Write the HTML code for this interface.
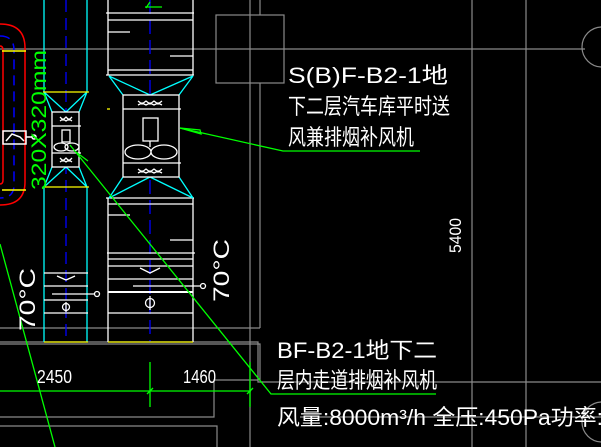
<!DOCTYPE html>
<html><head><meta charset="utf-8"><style>
html,body{margin:0;padding:0;background:#000;}
svg{display:block;}
text{font-family:"Liberation Sans","Noto Sans CJK SC",sans-serif;fill:#fff;}
</style></head><body>
<svg width="601" height="447" viewBox="0 0 601 447" xmlns="http://www.w3.org/2000/svg">
<rect width="601" height="447" fill="#000"/>
<!-- gray architecture -->
<g stroke="#8a8a8a" stroke-width="1.2" fill="none">
<line x1="0" y1="49" x2="585" y2="49"/>
<rect x="216" y="15" width="68" height="68"/>
<line x1="250" y1="0" x2="250" y2="447"/>
<line x1="260" y1="0" x2="260" y2="15"/>
<line x1="260" y1="83" x2="260" y2="328"/>
<line x1="472" y1="0" x2="472" y2="447"/>
<line x1="526" y1="0" x2="526" y2="447"/>
<line x1="0" y1="328" x2="260" y2="328"/>
<polyline points="0,342 258,342 258,382 601,382"/>
<polyline points="0,344 260,344 260,380"/>
<polyline points="0,417 214,417 214,380 258,380"/>
<polyline points="0,426 217,426 217,447"/>
<line x1="300" y1="417" x2="601" y2="417"/>
<circle cx="602" cy="47" r="20"/>
<circle cx="602" cy="422" r="20"/>
</g>
<!-- red/blue pipe -->
<g fill="none" stroke-width="1.5">
<path d="M0,24 Q25,24 25,48 L25,182 Q25,205 0,205" stroke="#ff0000"/>
<path d="M0,46 Q3,46 3,50 L3,180 Q3,184 0,184" stroke="#ff0000"/>
<path d="M0,36 Q14,36 14,50 L14,185 Q14,198 0,198" stroke="#0000ff" stroke-dasharray="10,6"/>
<line x1="2" y1="51" x2="26" y2="51" stroke="#ffff00"/>
<line x1="2" y1="190" x2="26" y2="190" stroke="#ffff00"/>
<rect x="3" y="131" width="23" height="13" stroke="#fff"/>
<line x1="26" y1="137" x2="32" y2="137" stroke="#fff"/>
<circle cx="34" cy="137" r="2" stroke="#fff"/>
<path d="M6,141 L12,134 L20,137 L24,141" stroke="#fff"/>
</g>
<!-- left duct -->
<g fill="none" stroke-width="1.3">
<line x1="44" y1="0" x2="44" y2="92" stroke="#00ffff"/>
<line x1="87" y1="0" x2="87" y2="92" stroke="#00ffff"/>
<line x1="44" y1="187" x2="44" y2="342" stroke="#00ffff"/>
<line x1="87" y1="187" x2="87" y2="342" stroke="#00ffff"/>
<line x1="66" y1="0" x2="66" y2="342" stroke="#0000ff" stroke-dasharray="12,6"/>
<path d="M44,92 L52,112 M87,92 L79,112 M44,92 L66,112 M87,92 L66,112" stroke="#00ffff"/>
<path d="M52,167 L44,187 M79,167 L87,187 M66,167 L44,187 M66,167 L87,187" stroke="#00ffff"/>
<line x1="43" y1="92" x2="89" y2="92" stroke="#ffff00"/>
<line x1="43" y1="187" x2="89" y2="187" stroke="#ffff00"/>
<rect x="52" y="112" width="27" height="55" stroke="#fff" fill="#000"/>
<line x1="52" y1="126" x2="81" y2="126" stroke="#fff"/>
<line x1="52" y1="153" x2="81" y2="153" stroke="#fff"/>
<rect x="62" y="130" width="8" height="12" stroke="#fff"/>
<ellipse cx="61" cy="147" rx="7" ry="4" stroke="#fff"/>
<ellipse cx="72" cy="147" rx="7" ry="4" stroke="#fff"/>
<path d="M60,117 l3,3 l3,-3 l3,3 l3,-3 M60,121 l3,-2 l3,2 l3,-2 l3,2" stroke="#fff"/>
<path d="M60,158 l3,3 l3,-3 l3,3 l3,-3 M60,162 l3,-2 l3,2 l3,-2 l3,2" stroke="#fff"/>
<g stroke="#fff">
<line x1="44" y1="273" x2="88" y2="273"/><line x1="44" y1="286" x2="88" y2="286"/>
<line x1="44" y1="300" x2="88" y2="300"/><line x1="44" y1="313" x2="88" y2="313"/>
<path d="M57,276 L66,280 L75,276"/><path d="M52,294 L77,294"/><line x1="77" y1="294" x2="94" y2="294"/>
<circle cx="97" cy="294" r="2.5"/><circle cx="66" cy="307" r="3.5"/><line x1="66" y1="302" x2="66" y2="312"/>
</g>
<line x1="44" y1="342" x2="88" y2="342" stroke="#ffff00"/>
</g>
<!-- big duct -->
<g fill="none" stroke-width="1.3">
<line x1="150" y1="0" x2="150" y2="342" stroke="#0000ff" stroke-dasharray="14,6"/>
<g stroke="#fff">
<line x1="108" y1="0" x2="108" y2="75"/><line x1="193" y1="0" x2="193" y2="75"/>
<line x1="106" y1="13" x2="194" y2="13"/><line x1="108" y1="20" x2="193" y2="20"/>
<line x1="108" y1="70" x2="193" y2="70"/><line x1="106" y1="75" x2="194" y2="75"/>
<line x1="108" y1="32" x2="130" y2="32"/><line x1="170" y1="56" x2="193" y2="56"/>
<line x1="108" y1="198" x2="108" y2="342"/><line x1="193" y1="198" x2="193" y2="342"/>
<line x1="106" y1="198" x2="194" y2="198"/><line x1="108" y1="204" x2="193" y2="204"/>
<line x1="108" y1="215" x2="130" y2="215"/><line x1="170" y1="240" x2="193" y2="240"/>
<line x1="107" y1="253" x2="195" y2="253"/><line x1="108" y1="259" x2="193" y2="259"/>
<line x1="108" y1="266" x2="193" y2="266"/><line x1="108" y1="279" x2="193" y2="279"/>
<line x1="108" y1="292" x2="193" y2="292" stroke-width="2"/><line x1="108" y1="313" x2="193" y2="313"/>
<path d="M140,268 L150,273 L160,268"/><line x1="133" y1="286" x2="168" y2="286"/><line x1="168" y1="286" x2="200" y2="286"/>
<circle cx="203" cy="286" r="2.5"/><circle cx="150" cy="303" r="4.5"/><line x1="150" y1="296" x2="150" y2="310"/>
</g>
<path d="M109,76 L150,95 L193,76 M109,76 L123,95 M193,76 L179,95" stroke="#00ffff"/>
<path d="M123,177 L109,198 M179,177 L193,198 M150,177 L109,198 M150,177 L193,198" stroke="#00ffff"/>
<rect x="123" y="95" width="56" height="82" stroke="#fff" fill="#000"/>
<line x1="123" y1="109" x2="181" y2="109" stroke="#fff"/>
<line x1="123" y1="163" x2="181" y2="163" stroke="#fff"/>
<rect x="143" y="118" width="15" height="23" stroke="#fff"/>
<line x1="150" y1="141" x2="150" y2="147" stroke="#fff"/>
<ellipse cx="138" cy="152" rx="13" ry="7" stroke="#fff"/>
<ellipse cx="164" cy="152" rx="13" ry="7" stroke="#fff"/>
<path d="M138,101 l4,3 l4,-3 l4,3 l4,-3 l4,3 l4,-3 M138,105 l4,-2 l4,2 l4,-2 l4,2 l4,-2 l4,2" stroke="#fff"/>
<path d="M138,169 l4,3 l4,-3 l4,3 l4,-3 l4,3 l4,-3 M138,173 l4,-2 l4,2 l4,-2 l4,2 l4,-2 l4,2" stroke="#fff"/>
<line x1="108" y1="342" x2="193" y2="342" stroke="#ffff00"/>
<line x1="107" y1="109" x2="110" y2="109" stroke="#ffff00"/>
<path d="M145,7 L162,7 M150,2 L146,8" stroke="#00ff00"/>
</g>
<!-- green leaders / dims -->
<g stroke="#00ff00" stroke-width="1.3" fill="none">
<polyline points="180,128 283,151 420,151"/>
<path d="M180,128 L200,130 L201,134 Z"/>
<polyline points="70,145 271,394 436,394"/>
<path d="M76,152 L88,161"/>
<line x1="0" y1="244" x2="55" y2="447"/>
<line x1="0" y1="391" x2="251" y2="391"/>
<line x1="150" y1="362" x2="150" y2="407"/>
<line x1="250" y1="362" x2="250" y2="407"/>
<line x1="147" y1="394" x2="153" y2="388"/>
<line x1="247" y1="394" x2="253" y2="388"/>
</g>
<text x="0" y="0" font-size="21" fill="#00ff00" style="fill:#00ff00" transform="translate(46,190) rotate(-90)" textLength="140" lengthAdjust="spacingAndGlyphs">320X320mm</text>
<!-- white texts -->
<text x="288" y="83" font-size="22" textLength="160" lengthAdjust="spacingAndGlyphs">S(B)F-B2-1地</text>
<text x="288" y="114" font-size="22" textLength="162" lengthAdjust="spacingAndGlyphs">下二层汽车库平时送</text>
<text x="288" y="145" font-size="22" textLength="126" lengthAdjust="spacingAndGlyphs">风兼排烟补风机</text>
<text x="277" y="358" font-size="22" textLength="160" lengthAdjust="spacingAndGlyphs">BF-B2-1地下二</text>
<text x="277" y="388" font-size="22" textLength="160" lengthAdjust="spacingAndGlyphs">层内走道排烟补风机</text>
<text x="277" y="425" font-size="22" textLength="326" lengthAdjust="spacingAndGlyphs">风量:8000m³/h 全压:450Pa功率:</text>
<text x="37" y="383" font-size="18" textLength="35" lengthAdjust="spacingAndGlyphs">2450</text>
<text x="183" y="383" font-size="18" textLength="33" lengthAdjust="spacingAndGlyphs">1460</text>
<text x="0" y="0" font-size="17" transform="translate(461,253) rotate(-90)" textLength="35" lengthAdjust="spacingAndGlyphs">5400</text>
<text x="0" y="0" font-size="22" transform="translate(229,302) rotate(-90)" textLength="63" lengthAdjust="spacingAndGlyphs">70°C</text>
<text x="0" y="0" font-size="22" transform="translate(35,331) rotate(-90)" textLength="63" lengthAdjust="spacingAndGlyphs">70°C</text>
</svg>
</body></html>
